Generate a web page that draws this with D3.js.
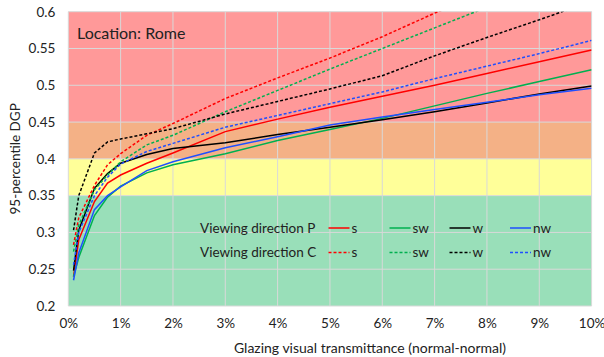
<!DOCTYPE html>
<html>
<head>
<meta charset="utf-8">
<script src="https://cdn.jsdelivr.net/npm/d3@7"></script>
<style>
  html, body { margin: 0; padding: 0; background: #fff; }
  svg { display: block; font-family: Lato, "Open Sans", sans-serif; }
</style>
</head>
<body>
<svg id="chart" width="604" height="357"></svg>
<script>
// Glazing visual transmittance, in percent
const transmittance = [0.1, 0.2, 0.5, 0.75, 1, 1.5, 2, 3, 4, 5, 6, 7, 8, 9, 10];

// 95-percentile DGP, viewing direction P
const pS  = [0.240, 0.290, 0.342, 0.367, 0.378, 0.394, 0.408, 0.437, 0.454, 0.470, 0.485, 0.500, 0.516, 0.532, 0.548];
const pSW = [0.240, 0.266, 0.323, 0.348, 0.363, 0.381, 0.392, 0.407, 0.425, 0.440, 0.455, 0.472, 0.489, 0.505, 0.521];
const pW  = [0.248, 0.303, 0.360, 0.380, 0.394, 0.406, 0.414, 0.422, 0.433, 0.443, 0.453, 0.464, 0.476, 0.488, 0.499];
const pNW = [0.235, 0.272, 0.331, 0.350, 0.362, 0.384, 0.396, 0.415, 0.430, 0.446, 0.457, 0.467, 0.477, 0.487, 0.496];

// 95-percentile DGP, viewing direction C
const cS  = [0.283, 0.320, 0.364, 0.392, 0.407, 0.432, 0.448, 0.482, 0.510, 0.537, 0.566, 0.598, 0.627, 0.655, 0.683];
const cSW = [0.274, 0.310, 0.358, 0.378, 0.396, 0.419, 0.432, 0.464, 0.493, 0.522, 0.550, 0.578, 0.606, 0.634, 0.662];
const cW  = [0.303, 0.350, 0.408, 0.423, 0.427, 0.434, 0.441, 0.461, 0.478, 0.495, 0.513, 0.540, 0.565, 0.589, 0.614];
const cNW = [0.256, 0.300, 0.350, 0.375, 0.393, 0.410, 0.421, 0.443, 0.459, 0.475, 0.491, 0.509, 0.526, 0.543, 0.561];

const orientations = ["s", "sw", "w", "nw"];
const orientationColors = ["#ff0000", "#00b050", "#000000", "#1f4fff"];
const directionNames = ["Viewing direction P", "Viewing direction C"];

// Glare comfort bands (lower bound, upper bound)
const bandLimits = [[0.2, 0.35], [0.35, 0.4], [0.4, 0.45], [0.45, 0.6]];
const bandColors = ["#99dfb9", "#ffff99", "#f4b186", "#ff9999"];

const xTicks = [0, 1, 2, 3, 4, 5, 6, 7, 8, 9, 10];
const yTicks = [0.2, 0.25, 0.3, 0.35, 0.4, 0.45, 0.5, 0.55, 0.6];

const series = [
  { dir: 0, o: 0, values: pS },  { dir: 0, o: 1, values: pSW },
  { dir: 0, o: 2, values: pW },  { dir: 0, o: 3, values: pNW },
  { dir: 1, o: 0, values: cS },  { dir: 1, o: 1, values: cSW },
  { dir: 1, o: 2, values: cW },  { dir: 1, o: 3, values: cNW }
];

const svg = d3.select("#chart");
const margin = { left: 68.3, right: 604 - 591.6, top: 11.7, bottom: 357 - 306 };
const W = 604, H = 357;
const textColor = "#222";

const x = d3.scaleLinear().domain([0, 10]).range([margin.left, W - margin.right]);
const y = d3.scaleLinear().domain([0.2, 0.6]).range([H - margin.bottom, margin.top]);

// comfort bands
svg.append("g").selectAll("rect").data(bandLimits).join("rect")
  .attr("x", x(0)).attr("width", x(10) - x(0))
  .attr("y", d => y(d[1])).attr("height", d => y(d[0]) - y(d[1]))
  .attr("fill", (d, i) => bandColors[i]);

// gridlines
const grid = svg.append("g").attr("stroke", "#d9d9d9").attr("stroke-width", 1);
grid.selectAll(".gx").data(xTicks).join("line")
  .attr("x1", d => x(d)).attr("x2", d => x(d))
  .attr("y1", y(0.2)).attr("y2", y(0.6));
grid.selectAll(".gy").data(yTicks).join("line")
  .attr("x1", x(0)).attr("x2", x(10))
  .attr("y1", d => y(d)).attr("y2", d => y(d));

// axes (labels only, no domain lines)
const xAxis = d3.axisBottom(x).tickValues(xTicks).tickSize(0).tickPadding(12)
  .tickFormat(d => d + "%");
const gx = svg.append("g").attr("transform", `translate(0,${y(0.2)})`).call(xAxis);
const yAxis = d3.axisLeft(y).tickValues(yTicks).tickSize(0).tickPadding(13)
  .tickFormat(d3.format("~g"));
const gy = svg.append("g").attr("transform", `translate(${x(0)},0)`).call(yAxis);
[gx, gy].forEach(g => {
  g.select(".domain").remove();
  g.selectAll("text").attr("font-size", 13.5).attr("fill", textColor)
    .attr("font-family", "Lato, 'Open Sans', sans-serif");
});

// curves
svg.append("defs").append("clipPath").attr("id", "plotClip")
  .append("rect").attr("x", x(0)).attr("y", y(0.6))
  .attr("width", x(10) - x(0)).attr("height", y(0.2) - y(0.6));

const line = d3.line().x((d, i) => x(transmittance[i])).y(d => y(d));
svg.append("g").attr("clip-path", "url(#plotClip)")
  .selectAll("path").data(series).join("path")
  .attr("d", d => line(d.values))
  .attr("fill", "none")
  .attr("stroke", d => orientationColors[d.o])
  .attr("stroke-width", 1.5)
  .attr("stroke-dasharray", d => d.dir === 1 ? "3,2" : null);

// legend
const legendRowsY = [228, 252.5];
const legendSwatchX = [328.5, 389.5, 449.5, 510];
const legend = svg.append("g").attr("font-size", 13.5).attr("fill", textColor);
directionNames.forEach((name, r) => {
  legend.append("text").attr("x", 200).attr("y", legendRowsY[r])
    .attr("dy", "0.35em").text(name);
  orientations.forEach((o, k) => {
    legend.append("line")
      .attr("x1", legendSwatchX[k]).attr("x2", legendSwatchX[k] + 21)
      .attr("y1", legendRowsY[r]).attr("y2", legendRowsY[r])
      .attr("stroke", orientationColors[k]).attr("stroke-width", 1.5)
      .attr("stroke-dasharray", r === 1 ? "3,2" : null);
    legend.append("text").attr("x", legendSwatchX[k] + 23).attr("y", legendRowsY[r])
      .attr("dy", "0.35em").text(o);
  });
});

// location note
svg.append("text").attr("x", 77).attr("y", 33).attr("dy", "0.35em")
  .attr("font-size", 16).attr("fill", textColor).text("Location: Rome");

// axis titles
svg.append("text").attr("x", 370).attr("y", 348)
  .attr("text-anchor", "middle").attr("font-size", 14).attr("fill", textColor)
  .attr("dy", "0.35em").text("Glazing visual transmittance (normal-normal)");
svg.append("text")
  .attr("transform", `translate(15,${(y(0.2) + y(0.6)) / 2}) rotate(-90)`)
  .attr("text-anchor", "middle").attr("font-size", 13.5).attr("fill", textColor)
  .attr("dy", "0.35em").text("95-percentile DGP");
</script>
</body>
</html>
